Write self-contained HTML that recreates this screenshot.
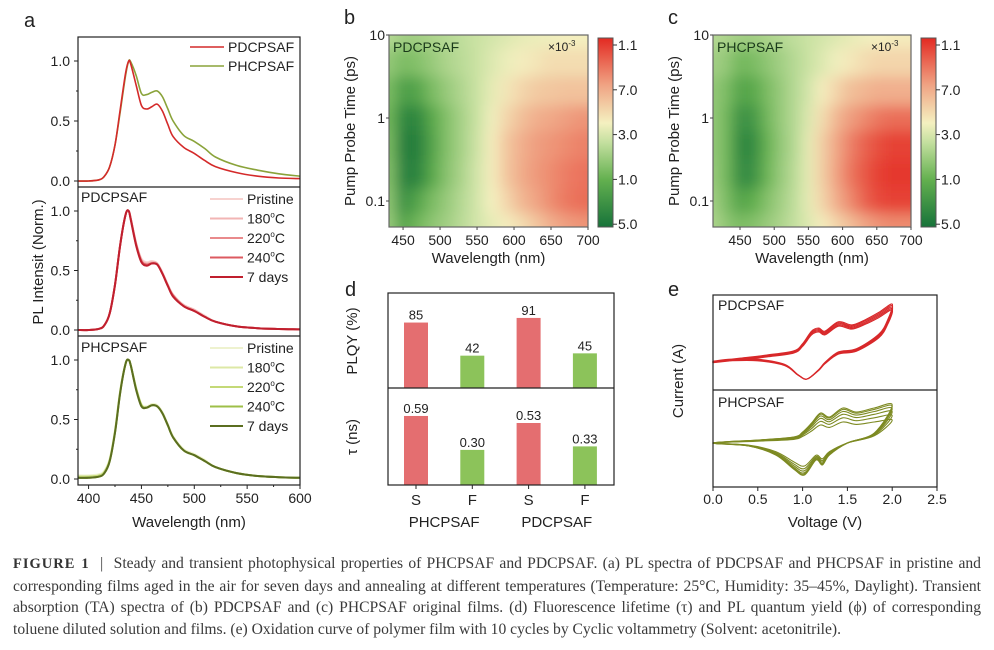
<!DOCTYPE html>
<html><head><meta charset="utf-8"><style>
body{margin:0;background:#fff;width:994px;height:650px;overflow:hidden;}
#fig{position:absolute;left:0;top:0;}
#cap{position:absolute;left:13px;top:553px;width:968px;font-family:"Liberation Serif",serif;font-size:15.6px;line-height:21.7px;color:#3a3a3a;}
#cap div{text-align:justify;text-align-last:justify;white-space:nowrap;}
#cap div.last{text-align-last:left;}
#cap b{letter-spacing:1px;color:#333;font-size:14.5px;}
</style></head><body>
<svg id="fig" width="994" height="550" viewBox="0 0 994 550" font-family="Liberation Sans, sans-serif"></svg>
<div id="cap">
<div><b>FIGURE 1</b> &nbsp;|&nbsp; Steady and transient photophysical properties of PHCPSAF and PDCPSAF. (a) PL spectra of PDCPSAF and PHCPSAF in pristine and</div>
<div>corresponding films aged in the air for seven days and annealing at different temperatures (Temperature: 25°C, Humidity: 35–45%, Daylight). Transient</div>
<div>absorption (TA) spectra of (b) PDCPSAF and (c) PHCPSAF original films. (d) Fluorescence lifetime (τ) and PL quantum yield (ϕ) of corresponding</div>
<div class="last">toluene diluted solution and films. (e) Oxidation curve of polymer film with 10 cycles by Cyclic voltammetry (Solvent: acetonitrile).</div>
</div>
<script>
// ===== Panel a data =====
const waveA = [390,400,410,415,420,425,430,435,438,440,445,450,455,460,465,470,475,480,490,500,510,520,540,560,580,600];
const pdTop = [0,0,0.01,0.04,0.12,0.3,0.6,0.9,1.0,0.97,0.8,0.63,0.6,0.62,0.64,0.58,0.47,0.37,0.28,0.23,0.17,0.12,0.07,0.04,0.025,0.02];
const phTop = [0,0,0.01,0.04,0.12,0.3,0.58,0.88,1.0,0.99,0.88,0.73,0.72,0.74,0.75,0.7,0.6,0.5,0.38,0.33,0.27,0.2,0.13,0.09,0.06,0.04];
const pdPristine = [0,0,0.01,0.04,0.14,0.38,0.72,0.97,1.0,0.93,0.73,0.6,0.57,0.58,0.56,0.48,0.38,0.3,0.21,0.17,0.12,0.07,0.03,0.015,0.008,0.005];
const pd180 = [0,0,0.01,0.04,0.14,0.38,0.72,0.97,1.0,0.93,0.73,0.59,0.56,0.57,0.56,0.48,0.38,0.29,0.21,0.17,0.11,0.07,0.03,0.015,0.008,0.005];
const pd220 = [0,0,0.01,0.04,0.14,0.38,0.72,0.97,1.0,0.93,0.72,0.58,0.55,0.56,0.55,0.47,0.37,0.29,0.2,0.16,0.11,0.07,0.03,0.015,0.008,0.005];
const pd240 = [0,0,0.01,0.04,0.14,0.38,0.72,0.97,1.0,0.93,0.72,0.58,0.55,0.56,0.55,0.47,0.37,0.29,0.2,0.16,0.11,0.07,0.03,0.015,0.008,0.005];
const pd7d = [0,0,0.01,0.04,0.14,0.38,0.72,0.97,1.0,0.92,0.71,0.57,0.54,0.56,0.55,0.47,0.37,0.28,0.2,0.16,0.11,0.07,0.03,0.015,0.008,0.005];
const phPristine = [0.03,0.03,0.04,0.07,0.17,0.41,0.75,0.97,1.0,0.95,0.77,0.63,0.61,0.63,0.62,0.56,0.46,0.36,0.25,0.21,0.16,0.1,0.05,0.025,0.015,0.01];
const ph180 = [0.02,0.02,0.03,0.06,0.16,0.4,0.74,0.97,1.0,0.95,0.76,0.62,0.6,0.62,0.61,0.55,0.45,0.35,0.24,0.2,0.15,0.1,0.05,0.025,0.015,0.01];
const ph220 = [0.02,0.02,0.03,0.06,0.16,0.4,0.74,0.97,1.0,0.95,0.76,0.62,0.6,0.62,0.61,0.55,0.45,0.35,0.24,0.2,0.15,0.1,0.05,0.025,0.015,0.01];
const ph240 = [0.01,0.01,0.02,0.05,0.15,0.39,0.73,0.97,1.0,0.95,0.76,0.62,0.6,0.62,0.61,0.55,0.45,0.35,0.24,0.2,0.15,0.1,0.05,0.025,0.015,0.01];
const ph7d = [0.01,0.01,0.02,0.05,0.15,0.39,0.73,0.97,1.0,0.95,0.75,0.61,0.6,0.62,0.61,0.55,0.45,0.35,0.24,0.2,0.15,0.1,0.05,0.025,0.015,0.01];
const legendLabels = ["Pristine","180°C","220°C","240°C","7 days"];
const yTicksA = [0,0.5,1.0];
const xTicksA = [400,450,500,550,600];

// ===== Panels b/c heatmap data =====
const timesTA = [10,5,2,1,0.5,0.2,0.1,0.05];
const waveB = [430,450,470,490,510,530,550,570,590,610,630,650,670,690];
const waveC = [410,430,450,470,490,510,530,550,570,590,610,630,650,670,690];
const tabB = [
[0.42,0.38,0.38,0.4,0.42,0.44,0.46,0.48,0.5,0.52,0.53,0.54,0.55,0.55],
[0.35,0.3,0.32,0.36,0.4,0.43,0.46,0.5,0.53,0.56,0.58,0.6,0.6,0.6],
[0.3,0.18,0.2,0.3,0.36,0.41,0.46,0.52,0.58,0.62,0.65,0.66,0.67,0.67],
[0.28,0.08,0.08,0.22,0.32,0.39,0.46,0.54,0.62,0.68,0.72,0.74,0.76,0.78],
[0.3,0.05,0.05,0.2,0.32,0.39,0.47,0.56,0.66,0.72,0.76,0.78,0.8,0.82],
[0.32,0.06,0.07,0.22,0.33,0.4,0.48,0.56,0.66,0.73,0.77,0.8,0.83,0.85],
[0.34,0.12,0.2,0.3,0.36,0.42,0.48,0.55,0.62,0.7,0.75,0.8,0.84,0.86],
[0.36,0.2,0.28,0.34,0.38,0.43,0.48,0.52,0.56,0.6,0.66,0.72,0.76,0.78]];
const tabC = [
[0.42,0.4,0.38,0.38,0.4,0.42,0.44,0.46,0.48,0.5,0.52,0.54,0.55,0.56,0.56],
[0.38,0.35,0.28,0.3,0.34,0.38,0.42,0.46,0.5,0.54,0.57,0.6,0.62,0.62,0.62],
[0.35,0.3,0.2,0.22,0.3,0.36,0.42,0.48,0.56,0.62,0.68,0.7,0.72,0.72,0.72],
[0.35,0.28,0.12,0.15,0.28,0.36,0.42,0.5,0.6,0.7,0.76,0.8,0.84,0.86,0.86],
[0.35,0.28,0.08,0.1,0.26,0.35,0.42,0.52,0.64,0.74,0.82,0.88,0.92,0.95,0.95],
[0.36,0.28,0.1,0.12,0.27,0.36,0.43,0.52,0.64,0.75,0.84,0.9,0.95,0.97,0.97],
[0.38,0.3,0.2,0.24,0.32,0.38,0.44,0.52,0.62,0.72,0.8,0.88,0.93,0.95,0.95],
[0.4,0.34,0.3,0.32,0.36,0.4,0.45,0.5,0.56,0.62,0.68,0.74,0.78,0.8,0.8]];
const xTicksTA = [450,500,550,600,650,700];
const yTicksTA = [10,1,0.1];
const yTickLabelsTA = ["10","1","0.1"];
const cbLabels = ["1.1","7.0","3.0","1.0","5.0"];

// ===== Panel d data =====
const catsD = ["S","F","S","F"];
const groupsD = ["PHCPSAF","PDCPSAF"];
const plqy = [85,42,91,45];
const tau = [0.59,0.30,0.53,0.33];
const tauLabels = ["0.59","0.30","0.53","0.33"];

// ===== Panel e data =====
const vFwdTop = [0,0.3,0.6,0.9,1.0,1.1,1.18,1.25,1.4,1.55,1.7,1.85,2.0];
const iFwdTop = [18,21,24,28,35,47,50,47,56,53,58,65,73];
const vRevTop = [2.0,1.95,1.85,1.6,1.4,1.25,1.18,1.05,0.95,0.8,0.5,0.2,0];
const iRevTop = [73,58,44,30,27,17,10,1,5,15,20,20,17];
const cycScaleTop = [0.96,0.98,1.0,1.02,1.04];
const vFwdBot = [0,0.5,0.9,1.0,1.1,1.2,1.3,1.45,1.6,1.8,2.0];
const iFwdBot = [0,3,6,11,20,30,26,35,31,35,38];
const vRevBot = [2.0,1.8,1.5,1.3,1.22,1.15,1.02,0.9,0.7,0.4,0];
const iRevBot = [30,10,0,-12,-22,-17,-32,-26,-12,-3,0];
const cycScaleFwdBot = [0.6,0.72,0.82,0.9,0.96,1.0];
const cycScaleRevBot = [0.72,0.8,0.87,0.93,0.97,1.0];
const xTicksE = [0,0.5,1.0,1.5,2.0,2.5];

const NS="http://www.w3.org/2000/svg";
const svg=document.getElementById('fig');
function mk(tag,attrs,parent){const e=document.createElementNS(NS,tag);for(const k in attrs)e.setAttribute(k,attrs[k]);(parent||svg).appendChild(e);return e;}
function txt(s,x,y,size,anchor,parent,extra){const t=mk('text',Object.assign({x:x,y:y,'font-size':size,'text-anchor':anchor||'start',fill:'#222'},extra||{}),parent);t.textContent=s;return t;}
function smooth(pts,closed){
  const n=pts.length;let d='M'+pts[0][0].toFixed(1)+','+pts[0][1].toFixed(1);
  const P=i=>closed?pts[(i+n)%n]:pts[Math.max(0,Math.min(n-1,i))];
  const last=closed?n:n-1;
  for(let i=0;i<last;i++){const p0=P(i-1),p1=P(i),p2=P(i+1),p3=P(i+2);
    const c1=[p1[0]+(p2[0]-p0[0])/6,p1[1]+(p2[1]-p0[1])/6],c2=[p2[0]-(p3[0]-p1[0])/6,p2[1]-(p3[1]-p1[1])/6];
    d+=' C'+c1[0].toFixed(1)+','+c1[1].toFixed(1)+' '+c2[0].toFixed(1)+','+c2[1].toFixed(1)+' '+p2[0].toFixed(1)+','+p2[1].toFixed(1);}
  return d;
}

// ---------- Panel a ----------
const XA=w=>78+(w-390)*222/210;
const subs=[{y0:181,y1:61},{y0:330,y1:211},{y0:479,y1:360}];
let e;
e=txt('a',24,27,20,'start');


const gA=mk('g',{});


function lineA(arr,sub,color,w,name){
  const Y=v=>subs[sub].y0-v*(subs[sub].y0-subs[sub].y1);
  const pts=arr.map((v,i)=>[XA(waveA[i]),Y(v)]);
  const p=mk('path',{d:smooth(pts,false),fill:'none',stroke:color,'stroke-width':w,'stroke-linejoin':'round'},gA);
  
  
}
lineA(phTop,0,'#8aa33a',1.6,'line-phcpsaf-top');
lineA(pdTop,0,'#d42a2a',1.6,'line-pdcpsaf-top');
const pdSeries=[pdPristine,pd180,pd220,pd240,pd7d];
const pdCols=['#f7d2cf','#f2b5b4','#e98a8c','#dc5a60','#c01f2e'];
const phSeries=[phPristine,ph180,ph220,ph240,ph7d];
const phCols=['#eef2cf','#dde8a6','#c4d977','#9ebf48','#5b6e20'];
pdSeries.forEach((s,i)=>lineA(s,1,pdCols[i],2,'line-pdcpsaf-'+legendLabels[i].replace('°C','c').replace(' ','-')));
phSeries.forEach((s,i)=>lineA(s,2,phCols[i],2,'line-phcpsaf-'+legendLabels[i].replace('°C','c').replace(' ','-')));
e=mk('rect',{x:78,y:37,width:222,height:448,fill:'none',stroke:'#222','stroke-width':1.2});


[187,336].forEach(y=>{const l=mk('line',{x1:78,x2:300,y1:y,y2:y,stroke:'#222','stroke-width':1.2});

});
subs.forEach((s,si)=>{
  yTicksA.forEach(v=>{const y=s.y0-v*(s.y0-s.y1);
    mk('line',{x1:74,x2:78,y1:y,y2:y,stroke:'#222'});
    const t=txt(v.toFixed(1),70,y+5,14,'end');
    
    });
  [0.25,0.75].forEach(v=>{const y=s.y0-v*(s.y0-s.y1);mk('line',{x1:76,x2:78,y1:y,y2:y,stroke:'#222'});});
});
xTicksA.forEach(w=>{mk('line',{x1:XA(w),x2:XA(w),y1:485,y2:489,stroke:'#222'});
  const t=txt(String(w),XA(w),503,14,'middle');
  
  });
[425,475,525,575].forEach(w=>mk('line',{x1:XA(w),x2:XA(w),y1:485,y2:487,stroke:'#222'}));
e=txt('Wavelength (nm)',189,527,15,'middle');


e=txt('PL Intensit (Norm.)',0,0,15,'middle',null,{transform:'translate(43,262) rotate(-90)'});


[['PDCPSAF','#d42a2a',47],['PHCPSAF','#8aa33a',66]].forEach(l=>{
  const g=mk('g',{});
  
  
  mk('line',{x1:190,x2:224,y1:l[2],y2:l[2],stroke:l[1],'stroke-width':1.6},g);
  txt(l[0],228,l[2]+5,14,'start',g);
});
e=txt('PDCPSAF',81,202,14,'start');


e=txt('PHCPSAF',81,352,14,'start');


legendLabels.forEach((lab,i)=>{
  [[199,pdCols],[348,phCols]].forEach(cfg=>{
    const y=cfg[0]+i*19.5;
    const g=mk('g',{});
    
    
    mk('line',{x1:210,x2:243,y1:y,y2:y,stroke:cfg[1][i],'stroke-width':2},g);
    const m=lab.match(/^(\d+)°C$/);
    if(m){const t=mk('text',{x:247,y:y+5,'font-size':14,fill:'#222'},g);
      t.appendChild(document.createTextNode(m[1]));
      const s=mk('tspan',{'font-size':8,dy:-6},t);s.textContent='o';
      const s2=mk('tspan',{dy:6},t);s2.textContent='C';}
    else txt(lab,247,y+5,14,'start',g);
  });
});

// ---------- Panels b/c ----------
const stops=[[0,[23,115,58]],[0.25,[99,176,79]],[0.45,[197,224,160]],[0.55,[244,240,192]],[0.75,[240,164,132]],[1,[227,42,34]]];
function cmap(v){v=Math.max(0,Math.min(1,v));for(let i=1;i<stops.length;i++){if(v<=stops[i][0]){const a=stops[i-1],b=stops[i],t=(v-a[0])/(b[0]-a[0]);return 'rgb('+a[1].map((c,k)=>Math.round(c+(b[1][k]-c)*t)).join(',')+')';}}return 'rgb(227,42,34)';}
const defs=mk('defs',{});
const f=mk('filter',{id:'blur',x:'-10%',y:'-10%',width:'120%',height:'120%'},defs);
mk('feGaussianBlur',{stdDeviation:7},f);
const lg=mk('linearGradient',{id:'cbgrad',x1:0,y1:1,x2:0,y2:0},defs);
stops.forEach(s=>mk('stop',{offset:s[0],'stop-color':cmap(s[0])},lg));

function heat(cfg){
  const {left,right,top,bottom,wmin,waves,tab,name,label,letter,lx}=cfg;
  const X=w=>left+(w-wmin)*(right-left)/(700-wmin);
  const Y=t=>top+(1-Math.log10(t))*83;
  const g=mk('g',{});
  
  
  const cp=mk('clipPath',{id:'clip'+letter},defs);
  mk('rect',{x:left,y:top,width:right-left,height:bottom-top},cp);
  const hg=mk('g',{'clip-path':'url(#clip'+letter+')'},g);
  const inner=mk('g',{filter:'url(#blur)'},hg);
  timesTA.forEach((t,r)=>{
    const lt=Math.log10(t);
    const yA=r===0?top-25:Y(Math.pow(10,(lt+Math.log10(timesTA[r-1]))/2));
    const yB=r===timesTA.length-1?bottom+25:Y(Math.pow(10,(lt+Math.log10(timesTA[r+1]))/2));
    waves.forEach((w,c)=>{
      const xA=c===0?left-25:X((w+waves[c-1])/2);
      const xB=c===waves.length-1?right+25:X((w+waves[c+1])/2);
      const cell=mk('rect',{x:xA.toFixed(1),y:yA.toFixed(1),width:(xB-xA+0.6).toFixed(1),height:(yB-yA+0.6).toFixed(1),fill:cmap(tab[r][c])},inner);
      
      
    });
  });
  mk('rect',{x:left,y:top,width:right-left,height:bottom-top,fill:'none',stroke:'#666','stroke-width':1.2},g);
  xTicksTA.forEach(w=>{mk('line',{x1:X(w),x2:X(w),y1:bottom,y2:bottom+3,stroke:'#444'},g);
    const t=txt(String(w),X(w),bottom+18,14,'middle',g);
    
    });
  yTicksTA.forEach((v,i)=>{mk('line',{x1:left-3,x2:left,y1:Y(v),y2:Y(v),stroke:'#444'},g);
    const t=txt(yTickLabelsTA[i],left-4,Y(v)+5,14,'end',g);
    
    });
  let tt=txt('Wavelength (nm)',(left+right)/2,bottom+36,15,'middle',g);
  
  
  tt=txt('Pump Probe Time (ps)',0,0,15,'middle',g,{transform:'translate('+(left-34)+','+((top+bottom)/2)+') rotate(-90)'});
  
  
  tt=txt(label,left+4,top+17,14,'start',g,{fill:'#1a3a1a'});
  
  
  const sc=mk('text',{x:right-40,y:top+16,'font-size':12,fill:'#222'},g);
  
  
  sc.appendChild(document.createTextNode('×10'));
  const sp=mk('tspan',{'font-size':8,dy:-5},sc);sp.textContent='-3';
  tt=txt(letter,lx,24,20,'start',g);
  
  
  const cbx=right+10;
  const cb=mk('rect',{x:cbx,y:38,width:15,height:189,fill:'url(#cbgrad)',stroke:'#555','stroke-width':1},g);
  
  
  cbLabels.forEach((l,i)=>{const y=45+i*44.8;
    mk('line',{x1:cbx+15,x2:cbx+19,y1:y,y2:y,stroke:'#333'},g);
    const t=txt(l,cbx+20,y+5,14,'start',g);
    
    });
}
heat({left:389,right:588,top:35,bottom:227,wmin:431,waves:waveB,tab:tabB,name:'panel-b-ta-heatmap',label:'PDCPSAF',letter:'b',lx:344});
heat({left:713,right:911,top:35,bottom:227,wmin:410.5,waves:waveC,tab:tabC,name:'panel-c-ta-heatmap',label:'PHCPSAF',letter:'c',lx:668});

// ---------- Panel d ----------
const gD=mk('g',{});


e=txt('d',345,296,20,'start',gD);


const XD=i=>416+i*56.3;
const YP=v=>388-v*0.77;
const YT=v=>485-v*117;
catsD.forEach((c,i)=>{
  const col=i%2===0?'#e46e70':'#8cc35a';
  const b1=mk('rect',{x:XD(i)-12,y:YP(plqy[i]),width:24,height:388-YP(plqy[i]),fill:col},gD);
  
  
  let t=txt(String(plqy[i]),XD(i),YP(plqy[i])-3,13,'middle',gD);
  
  
  const b2=mk('rect',{x:XD(i)-12,y:YT(tau[i]),width:24,height:485-YT(tau[i]),fill:col},gD);
  
  
  t=txt(tauLabels[i],XD(i),YT(tau[i])-3,13,'middle',gD);
  
  
  mk('line',{x1:XD(i),x2:XD(i),y1:485,y2:489,stroke:'#222'},gD);
  t=txt(c,XD(i),505,15,'middle',gD);
  
  
});
groupsD.forEach((gname,i)=>{const t=txt(gname,(XD(2*i)+XD(2*i+1))/2,527,15,'middle',gD);
  
  });
mk('rect',{x:388,y:293,width:226,height:192,fill:'none',stroke:'#222','stroke-width':1.2},gD);
mk('line',{x1:388,x2:614,y1:388,y2:388,stroke:'#222','stroke-width':1.2},gD);
e=txt('PLQY (%)',0,0,15,'middle',gD,{transform:'translate(357,341) rotate(-90)'});


e=txt('τ (ns)',0,0,15,'middle',gD,{transform:'translate(357,437) rotate(-90)'});



// ---------- Panel e ----------
const gE=mk('g',{});


e=txt('e',668,296,20,'start',gE);


const XE=v=>713+v*89.6;
function cv(vf,iF,vr,iR,sf,sr,base,color,name){
  sf.forEach((s,k)=>{
    const pts=[];
    vf.forEach((v,i)=>pts.push([XE(v),base-iF[i]*s]));
    vr.slice(1,-1).forEach((v,i)=>pts.push([XE(v),base-iR[i+1]*sr[k]]));
    const p=mk('path',{d:smooth(pts,true)+'Z',fill:'none',stroke:color,'stroke-width':1.1,'stroke-linejoin':'round'},gE);
    
    
  });
}
cv(vFwdTop,iFwdTop,vRevTop,iRevTop,cycScaleTop,cycScaleTop,380,'#d8282a','cv-pdcpsaf');
cv(vFwdBot,iFwdBot,vRevBot,iRevBot,cycScaleFwdBot,cycScaleRevBot,443,'#7d8a22','cv-phcpsaf');
mk('rect',{x:713,y:295,width:224,height:192,fill:'none',stroke:'#222','stroke-width':1.2},gE);
mk('line',{x1:713,x2:937,y1:390,y2:390,stroke:'#222','stroke-width':1.2},gE);
xTicksE.forEach(v=>{mk('line',{x1:XE(v),x2:XE(v),y1:487,y2:491,stroke:'#222'},gE);
  const t=txt(v.toFixed(1),XE(v),504,14,'middle',gE);
  
  });
e=txt('Voltage (V)',825,527,15,'middle',gE);


e=txt('Current (A)',0,0,15,'middle',gE,{transform:'translate(683,381) rotate(-90)'});


e=txt('PDCPSAF',718,310,14,'start',gE);


e=txt('PHCPSAF',718,407,14,'start',gE);


</script>
</body></html>
